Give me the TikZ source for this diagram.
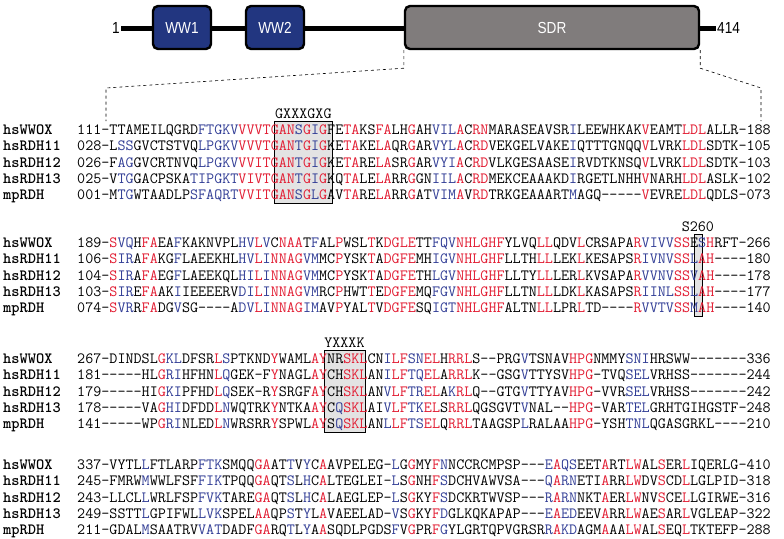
\documentclass[tikz,border=0pt]{standalone}
\usepackage{fontspec}
\usepackage{xcolor}
\usepackage{tikz}
\newfontfamily\domfont[FakeStretch=0.85]{Liberation Sans}
\usetikzlibrary{positioning, calc}
\definecolor{resred}{RGB}{226,28,50}
\definecolor{resblue}{RGB}{50,62,150}
\definecolor{wwcolor}{RGB}{34,54,128}
\definecolor{sdrcolor}{RGB}{128,124,124}
\newcommand{\seqfont}{\ttfamily\fontsize{15.66}{16}\selectfont}
\newcommand{\Rd}[1]{{\color{resred}#1}}
\newcommand{\Bl}[1]{{\color{resblue}#1}}
\def\cw{8.22}
\def\xo{77}

\begin{document}
\begin{tikzpicture}[
    x=1pt, y=-1pt,
    domainbox/.style={draw=black, line width=2.4pt, rounded corners=5pt, minimum height=43, inner sep=0pt, text=white, font=\domfont\fontsize{16}{16}\selectfont},
    endlabel/.style={inner sep=1pt, font=\domfont\fontsize{16}{16}\selectfont},
    zoomline/.style={dashed, line width=0.6pt},
    seqrow/.style={anchor=base west, inner sep=0pt, font=\seqfont},
    seqname/.style={anchor=base west, inner sep=0pt, font=\seqfont\bfseries},
    motifbox/.style={draw=black, line width=0.6pt, fill=gray!22, inner sep=0pt, anchor=north west, minimum height=81.5},
    motiflabel/.style={inner sep=0pt, font=\seqfont}
]
    \fill[white] (0,0) rectangle (784,538);
    \useasboundingbox (0,0) rectangle (784,538);

    % domain bar
    \node[endlabel, anchor=east] (nterm) at (121,28) {1};
    \node[endlabel, anchor=west] (cterm) at (716,28) {414};
    \draw[line width=5pt] (nterm.east) -- (cterm.west);
    \node[domainbox, fill=wwcolor, minimum width=58] (ww1) at (182,27.5) {WW1};
    \node[domainbox, fill=wwcolor, minimum width=58] (ww2) at (275,27.5) {WW2};
    \node[domainbox, fill=sdrcolor, minimum width=294] (sdr) at (552,27.5) {SDR};

    % zoom into the SDR
    \coordinate (zl) at (106,121);
    \coordinate (zr) at (761,121);
    \draw[zoomline] (sdr.south west) -- ++(0,18) -- ($(zl)+(0,-33)$) -- (zl);
    \draw[zoomline] (sdr.south east) -- ++(0,18) -- ($(zr)+(0,-33)$) -- (zr);

    % motif boxes
    \node[motifbox, minimum width={7*\cw}] (gbox) at ({\xo+24*\cw},121) {};
    \node[motiflabel, above=2pt of gbox] (glabel) {GXXXGXG};
    \node[motifbox, minimum width={\cw}] (sbox) at ({\xo+75*\cw},234) {};
    \node[motiflabel, above=2pt of sbox] (slabel) {S260};
    \node[motifbox, minimum width={5*\cw}] (ybox) at ({\xo+30*\cw},350) {};
    \node[motiflabel, above=2pt of ybox] (ylabel) {YXXXK};

    % sequence names
    \foreach \blk/\yb in {A/134.5,B/247.5,C/363.5,D/469.5}
        \foreach \nm [count=\i from 0] in {hsWWOX,hsRDH11,hsRDH12,hsRDH13,mpRDH}
            \node[seqname] (\nm\blk) at (3,{\yb+\i*16.25}) {\nm};

    % block A
    \node[seqrow] (rowA1) at (\xo,134.5) {111-TTAMEILQGRD\Bl{FTGKV}\Rd{VVVTGAN}\Bl{S}\Rd{G}\Bl{I}\Rd{G}FE\Rd{TA}KS\Rd{FA}LH\Rd{G}AH\Bl{VIL}\Rd{A}C\Rd{RN}MARASEAVSR\Bl{I}LEEWHKAK\Rd{V}EAMT\Rd{LDL}ALLR-188};
    \node[seqrow] (rowA2) at (\xo,150.75) {028-L\Bl{SS}GVCTSTVQ\Bl{LPGKV}\Rd{VVVTGAN}\Bl{T}\Rd{G}\Bl{I}\Rd{G}KE\Rd{TA}KE\Rd{LA}QR\Rd{G}AR\Bl{VYL}\Rd{A}C\Rd{RD}VEKGELVAKE\Bl{I}QTTTGNQQ\Rd{V}LVRK\Rd{LDL}SDTK-105};
    \node[seqrow] (rowA3) at (\xo,167) {026-F\Bl{AG}GVCRTNVQ\Bl{LPGKV}\Rd{VVITGAN}\Bl{T}\Rd{G}\Bl{I}\Rd{G}KE\Rd{TA}RE\Rd{LA}SR\Rd{G}AR\Bl{VYI}\Rd{A}C\Rd{RD}VLKGESAASE\Bl{I}RVDTKNSQ\Rd{V}LVRK\Rd{LDL}SDTK-103};
    \node[seqrow] (rowA4) at (\xo,183.25) {025-V\Bl{TG}GACPSKA\Bl{TIPGKT}\Rd{VIVTGAN}\Bl{T}\Rd{G}\Bl{I}\Rd{G}KQ\Rd{TA}LE\Rd{LA}RR\Rd{G}GN\Bl{IIL}\Rd{A}C\Rd{RD}MEKCEAAAKD\Bl{I}RGETLNHH\Rd{V}NARH\Rd{LDL}ASLK-102};
    \node[seqrow] (rowA5) at (\xo,199.5) {001-M\Bl{TG}WTAADLP\Bl{SFAQRT}\Rd{VVITGAN}\Bl{S}\Rd{G}\Bl{L}\Rd{G}AV\Rd{TA}RE\Rd{LA}RR\Rd{G}AT\Bl{VIM}\Rd{A}V\Rd{RD}TRKGEAAART\Bl{M}AGQ-----\Rd{V}EVRE\Rd{LDL}QDLS-073};

    % block B
    \node[seqrow] (rowB1) at (\xo,247.5) {189-\Rd{S}\Bl{VQ}H\Rd{FA}EA\Bl{F}KAKNVPL\Bl{HV}\Rd{L}\Bl{V}C\Rd{NAA}T\Bl{F}AL\Rd{P}WSL\Rd{T}K\Rd{DGLE}TT\Bl{FQV}\Rd{NHLGHF}YLVQ\Rd{LL}QDV\Rd{L}CRSAPA\Rd{R}\Bl{VIVV}\Rd{SS}E\Bl{S}\Rd{H}RFT-266};
    \node[seqrow] (rowB2) at (\xo,263.75) {106-\Rd{S}\Bl{IR}A\Rd{FA}KG\Bl{F}LAEEKHL\Bl{HV}\Rd{L}\Bl{I}\Rd{NNAG}\Bl{VM}MC\Rd{P}YSK\Rd{T}A\Rd{DGFE}MH\Bl{IGV}\Rd{NHLGHF}LLTH\Rd{LL}LEK\Rd{L}KESAPS\Rd{R}\Bl{IVNV}\Rd{SS}\Bl{L}\Rd{AH}----180};
    \node[seqrow] (rowB3) at (\xo,280) {104-\Rd{S}\Bl{IR}A\Rd{FA}EG\Bl{F}LAEEKQL\Bl{HI}\Rd{L}\Bl{I}\Rd{NNAG}\Bl{VM}MC\Rd{P}YSK\Rd{T}A\Rd{DGFE}TH\Bl{LGV}\Rd{NHLGHF}LLTY\Rd{LL}LER\Rd{L}KVSAPA\Rd{R}\Bl{VVNV}\Rd{SS}\Bl{V}\Rd{AH}----178};
    \node[seqrow] (rowB4) at (\xo,296.25) {103-\Rd{S}\Bl{IR}E\Rd{FA}AK\Bl{I}IEEEERV\Bl{DI}\Rd{L}\Bl{I}\Rd{NNAG}\Bl{VM}RC\Rd{P}HWT\Rd{T}E\Rd{DGFE}MQ\Bl{FGV}\Rd{NHLGHF}LLTN\Rd{LL}LDK\Rd{L}KASAPS\Rd{R}\Bl{IINL}\Rd{SS}\Bl{L}\Rd{AH}----177};
    \node[seqrow] (rowB5) at (\xo,312.5) {074-\Rd{S}\Bl{VR}R\Rd{FA}DG\Bl{V}SG----A\Bl{DV}\Rd{L}\Bl{I}\Rd{NNAG}\Bl{IM}AV\Rd{P}YAL\Rd{T}V\Rd{DGFE}SQ\Bl{IGT}\Rd{NHLGHF}ALTN\Rd{LL}LPR\Rd{L}TD----\Rd{R}\Bl{VVTV}\Rd{SS}\Bl{M}\Rd{AH}----140};

    % block C
    \node[seqrow] (rowC1) at (\xo,363.5) {267-DINDSL\Rd{G}\Bl{KL}DFSR\Rd{L}\Bl{S}PTKND\Rd{Y}WAML\Rd{AY}NR\Rd{SKL}CN\Bl{I}\Rd{LF}\Bl{SN}\Rd{EL}H\Rd{RRL}S--PRG\Bl{V}TSNAV\Rd{HPG}NMMY\Bl{SNI}HRSWW-------336};
    \node[seqrow] (rowC2) at (\xo,379.75) {181-----HL\Rd{G}\Bl{RI}HFHN\Rd{L}\Bl{Q}GEK-F\Rd{Y}NAGL\Rd{AY}CH\Rd{SKL}AN\Bl{I}\Rd{LF}\Bl{TQ}\Rd{EL}A\Rd{RRL}K--GSG\Bl{V}TTYSV\Rd{HPG}-TVQ\Bl{SEL}VRHSS-------244};
    \node[seqrow] (rowC3) at (\xo,396) {179-----HI\Rd{G}\Bl{KI}PFHD\Rd{L}\Bl{Q}SEK-R\Rd{Y}SRGF\Rd{AY}CH\Rd{SKL}AN\Bl{V}\Rd{LF}\Bl{TR}\Rd{EL}A\Bl{K}\Rd{RL}Q--GTG\Bl{V}TTYAV\Rd{HPG}-VVR\Bl{SEL}VRHSS-------242};
    \node[seqrow] (rowC4) at (\xo,412.25) {178-----VA\Rd{G}\Bl{HI}DFDD\Rd{L}\Bl{N}WQTRK\Rd{Y}NTKA\Rd{AY}C\Bl{Q}\Rd{SKL}AI\Bl{V}\Rd{LF}\Bl{TK}\Rd{EL}S\Rd{RRL}QGSGVT\Bl{V}NAL--\Rd{HPG}-VAR\Bl{TEL}GRHTGIHGSTF-248};
    \node[seqrow] (rowC5) at (\xo,428.5) {141-----WP\Rd{G}\Bl{RI}NLED\Rd{L}\Bl{N}WRSRR\Rd{Y}SPWL\Rd{AY}S\Bl{Q}\Rd{SKL}AN\Bl{L}\Rd{LF}\Bl{TS}\Rd{EL}Q\Rd{RRL}TAAGSP\Bl{L}RALAA\Rd{HPG}-YSH\Bl{TNL}QGASGRKL----210};

    % block D
    \node[seqrow] (rowD1) at (\xo,469.5) {337-VYTL\Bl{L}FTLARP\Bl{FTK}SMQQ\Rd{GA}AT\Bl{T}V\Bl{Y}C\Rd{A}AVPELEG-\Bl{L}G\Rd{G}MY\Rd{F}\Bl{N}NCCRCMPSP---\Bl{E}\Rd{A}\Bl{QS}EET\Rd{A}RT\Rd{LW}AL\Rd{S}ER\Rd{L}IQERLG-410};
    \node[seqrow] (rowD2) at (\xo,485.75) {245-FMRW\Bl{M}WWLFSF\Bl{FIK}TPQQ\Rd{GA}QT\Bl{S}L\Bl{H}C\Rd{A}LTEGLEI-\Bl{L}S\Rd{G}NH\Rd{F}\Bl{S}DCHVAWVSA---\Bl{Q}\Rd{A}\Bl{RN}ETI\Rd{A}RR\Rd{LW}DV\Rd{S}CD\Rd{L}LGLPID-318};
    \node[seqrow] (rowD3) at (\xo,502) {243-LLCL\Bl{L}WRLFSP\Bl{FVK}TARE\Rd{GA}QT\Bl{S}L\Bl{H}C\Rd{A}LAEGLEP-\Bl{L}S\Rd{G}KY\Rd{F}\Bl{S}DCKRTWVSP---\Bl{R}\Rd{A}\Bl{RN}NKT\Rd{A}ER\Rd{LW}NV\Rd{S}CE\Rd{L}LGIRWE-316};
    \node[seqrow] (rowD4) at (\xo,518.25) {249-SSTT\Bl{L}GPIFWL\Bl{LVK}SPEL\Rd{AA}QP\Bl{S}T\Bl{Y}L\Rd{A}VAEELAD-\Bl{V}S\Rd{G}KY\Rd{F}\Bl{D}GLKQKAPAP---\Bl{E}\Rd{A}\Bl{ED}EEV\Rd{A}RR\Rd{LW}AE\Rd{S}AR\Rd{L}VGLEAP-322};
    \node[seqrow] (rowD5) at (\xo,534.5) {211-GDAL\Bl{M}SAATRV\Bl{VAT}DADF\Rd{GA}RQ\Bl{T}L\Bl{Y}A\Rd{A}SQDLPGDS\Bl{F}V\Rd{G}PR\Rd{F}\Bl{G}YLGRTQPVGRSR\Bl{R}\Rd{A}\Bl{KD}AGM\Rd{A}AA\Rd{LW}AL\Rd{S}EQ\Rd{L}TKTEFP-288};
\end{tikzpicture}
\end{document}
